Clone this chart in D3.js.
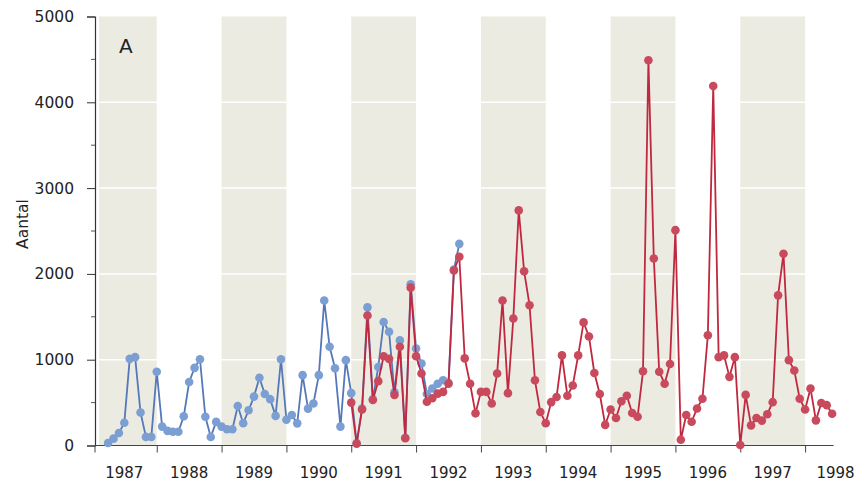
<!DOCTYPE html>
<html>
<head>
<meta charset="utf-8">
<script src="https://cdn.jsdelivr.net/npm/d3@7"></script>
<style>
  html, body { margin: 0; padding: 0; background: #fff; }
  svg { display: block; }
  text { font-family: "DejaVu Sans", sans-serif; fill: #222; }
</style>
</head>
<body>
<svg id="chart" width="864" height="484"></svg>
<script>
// ---- data (monthly counts, month index 0 = Jan 1987) ----
const years = [1987, 1988, 1989, 1990, 1991, 1992, 1993, 1994, 1995, 1996, 1997, 1998];
const shadedYears = [1987, 1989, 1991, 1993, 1995, 1997];
const yTicks = [0, 1000, 2000, 3000, 4000, 5000];
const yMinorTicks = [500, 1500, 2500, 3500, 4500];

const blueStart = 3;   // April 1987
const blueValues = [
  30, 80, 145, 265, 1010, 1030, 385, 100, 100,
  860, 220, 170, 160, 160, 340, 740, 905, 1005, 335, 100, 275,
  220, 190, 190, 460, 260, 410, 570, 790, 600, 540, 345, 1005,
  300, 355, 258, 820, 430, 490, 820, 1690, 1150, 900, 220, 995,
  610, 30, 430, 1610, 540, 915, 1440, 1325, 620, 1225, 90, 1880,
  1130, 955, 600, 665, 720, 760, 730, 2050, 2350
];

const redStart = 48;   // January 1991
const redValues = [
  500, 20, 420, 1515, 530, 750, 1040, 1010, 590, 1150, 85, 1840,
  1040, 840, 510, 550, 605, 625, 720, 2040, 2200, 1015, 720, 375,
  625, 625, 490, 840, 1690, 610, 1480, 2740, 2030, 1635, 760, 390,
  260, 505, 565, 1050, 580, 700, 1050, 1435, 1270, 845, 600, 240,
  420, 320, 515, 580, 378, 335, 865, 4490, 2180, 860, 720, 950,
  2510, 68, 355, 277, 432, 545, 1285, 4190, 1030, 1050, 800, 1030,
  5, 590, 235, 320, 290, 365, 505, 1750, 2235, 995, 875, 545,
  420, 665, 293, 495, 470, 370
];

// ---- layout ----
const svg = d3.select("#chart");
const x = d3.scaleLinear().domain([1987, 1998]).range([91.9, 805.1]);
const y = d3.scaleLinear().domain([0, 5000]).range([445.5, 16.5]);
const axisX0 = 95, axisX1 = x(1998.44);

const toPts = (start, vals) => vals.map((v, k) => ({ t: 1987 + (start + k) / 12, v }));
const blue = toPts(blueStart, blueValues);
const red = toPts(redStart, redValues);

// shaded bands
svg.append("g").selectAll("rect").data(shadedYears).join("rect")
  .attr("x", d => Math.max(x(d), axisX0 + 4))
  .attr("width", d => x(d + 1) - Math.max(x(d), axisX0 + 4))
  .attr("y", y(5000))
  .attr("height", y(0) - y(5000))
  .attr("fill", "#ecebe2");

// white gridlines over the bands
svg.append("g").selectAll("line").data(yTicks.filter(d => d > 0 && d < 5000)).join("line")
  .attr("x1", axisX0).attr("x2", axisX1)
  .attr("y1", d => y(d)).attr("y2", d => y(d))
  .attr("stroke", "#fff").attr("stroke-width", 1.5);

// y axis
const yAxis = svg.append("g").attr("transform", `translate(${axisX0},0)`)
  .call(d3.axisLeft(y).tickValues(yTicks).tickSize(8).tickPadding(13).tickFormat(d3.format("d")));
yAxis.select(".domain").attr("stroke", "#333").attr("stroke-width", 1.2);
yAxis.selectAll(".tick line").attr("stroke", "#333");
yAxis.selectAll(".tick text").attr("font-size", 15.5).attr("font-family", "DejaVu Sans").attr("fill", "#222");
svg.append("g").selectAll("line").data(yMinorTicks).join("line")
  .attr("x1", axisX0 - 4).attr("x2", axisX0)
  .attr("y1", d => y(d)).attr("y2", d => y(d))
  .attr("stroke", "#555");

// x axis
svg.append("line").attr("x1", axisX0).attr("x2", axisX1)
  .attr("y1", y(0)).attr("y2", y(0)).attr("stroke", "#444").attr("stroke-width", 1.2);
const xAxis = svg.append("g").attr("transform", `translate(0,${y(0)})`)
  .call(d3.axisBottom(x).tickValues(years.slice(1)).tickSize(7).tickFormat(""));
xAxis.select(".domain").remove();
xAxis.selectAll(".tick line").attr("stroke", "#444");
svg.append("line").attr("x1", axisX0).attr("x2", axisX0)
  .attr("y1", y(0)).attr("y2", y(0) + 7).attr("stroke", "#444");
svg.append("g").selectAll("text").data(years).join("text")
  .attr("x", d => x(d + 0.5) - (d === 1998 ? 2 : 0))
  .attr("y", 478)
  .attr("text-anchor", "middle")
  .attr("font-size", 15)
  .text(d => d);

// axis title and panel letter
svg.append("text").attr("transform", "translate(28,224) rotate(-90)")
  .attr("text-anchor", "middle").attr("font-size", 15.5).text("Aantal");
svg.append("text").attr("x", 119).attr("y", 53)
  .attr("font-size", 20).attr("font-weight", 500).text("A");

// series
const line = d3.line().x(d => x(d.t)).y(d => y(d.v));
function drawSeries(data, lineColor, dotColor) {
  const g = svg.append("g");
  g.append("path").datum(data).attr("d", line)
    .attr("fill", "none").attr("stroke", lineColor).attr("stroke-width", 1.8)
    .attr("stroke-linejoin", "round");
  g.selectAll("circle").data(data).join("circle")
    .attr("cx", d => x(d.t)).attr("cy", d => y(d.v)).attr("r", 4.3)
    .attr("fill", dotColor);
}
drawSeries(blue, "#5478b8", "#7c9fd3");
drawSeries(red, "#c0283f", "#c94a5c");
</script>
</body>
</html>
